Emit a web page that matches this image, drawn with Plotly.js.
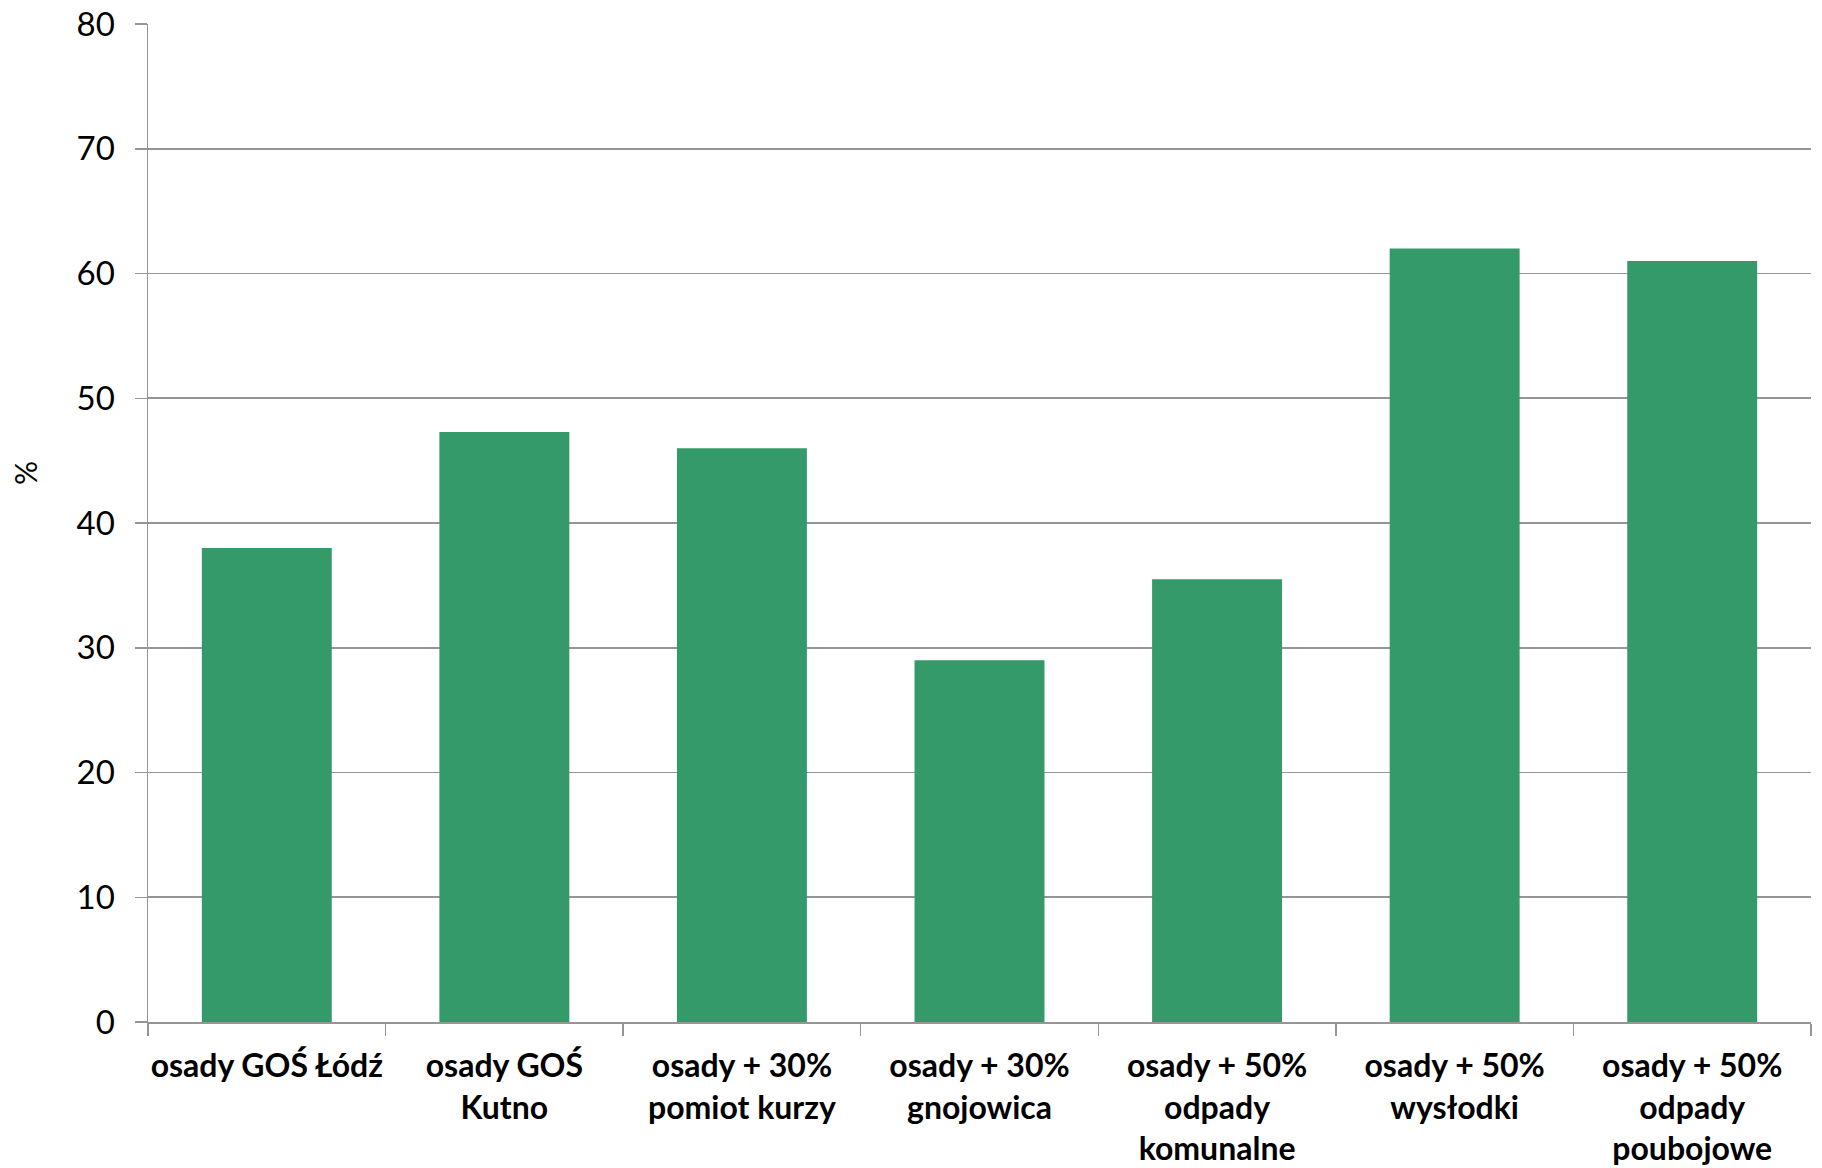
<!DOCTYPE html>
<html>
<head>
<meta charset="utf-8">
<script src="https://cdn.plot.ly/plotly-3.0.1.min.js"></script>
<style>html,body{margin:0;padding:0;background:#fff;}#chart{width:1822px;height:1168px;}</style>
</head>
<body>
<div id="chart"></div>
<script>
const categories = [
  "osady GOŚ Łódź",
  "osady GOŚ<br>Kutno",
  "osady + 30%<br>pomiot kurzy",
  "osady + 30%<br>gnojowica",
  "osady + 50%<br>odpady<br>komunalne",
  "osady + 50%<br>wysłodki",
  "osady + 50%<br>odpady<br>poubojowe"
];
const values = [38, 47.3, 46, 29, 35.5, 62, 61];
const yTicks = [0, 10, 20, 30, 40, 50, 60, 70, 80];
const yTitle = "%";

const FONT = "Lato, 'Open Sans', 'DejaVu Sans', sans-serif";
const GRID = "#959595";

Plotly.newPlot("chart", [{
  type: "bar",
  x: categories,
  y: values,
  marker: {color: "#359A6A", line: {width: 0}},
  hoverinfo: "skip"
}], {
  width: 1822,
  height: 1168,
  margin: {l: 148, r: 11, t: 24, b: 146},
  paper_bgcolor: "#ffffff",
  plot_bgcolor: "#ffffff",
  bargap: 0.453,
  showlegend: false,
  font: {family: FONT, color: "#000"},
  xaxis: {
    type: "category",
    tickson: "boundaries",
    ticks: "outside",
    ticklen: 12,
    tickwidth: 1.5,
    tickcolor: GRID,
    showline: true,
    linecolor: GRID,
    linewidth: 1.5,
    showgrid: false,
    tickfont: {family: FONT, size: 32, color: "#000", weight: "bold"},
    ticklabelstandoff: 15,
    tickangle: 0,
    automargin: false
  },
  yaxis: {
    range: [0, 80],
    tickvals: yTicks,
    ticks: "outside",
    ticklen: 12,
    tickwidth: 1.5,
    tickcolor: GRID,
    showline: true,
    linecolor: GRID,
    linewidth: 1.5,
    showgrid: true,
    gridcolor: GRID,
    gridwidth: 1.6,
    zeroline: false,
    tickfont: {family: FONT, size: 33, color: "#000"},
    ticklabelstandoff: 13,
    automargin: false
  },
  annotations: [{
    text: yTitle,
    xref: "paper", yref: "paper",
    x: -0.074, y: 0.55,
    xanchor: "center", yanchor: "middle",
    textangle: -90,
    showarrow: false,
    font: {family: FONT, size: 30, color: "#000"}
  }]
}, {displayModeBar: false, staticPlot: true});
</script>
</body>
</html>
